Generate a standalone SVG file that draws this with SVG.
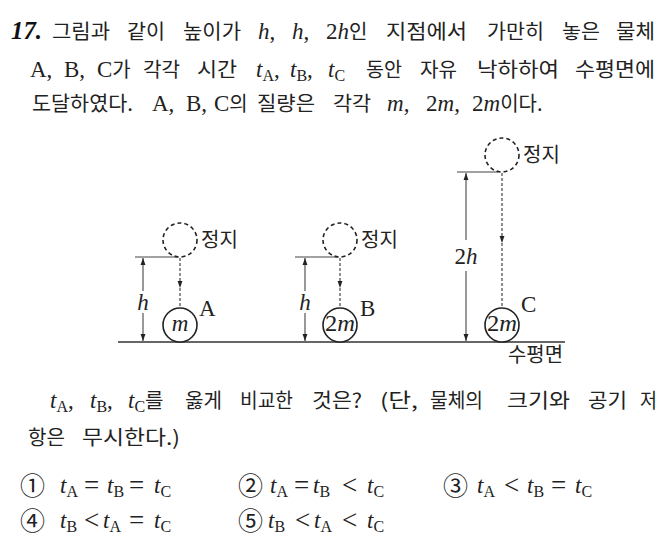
<svg xmlns="http://www.w3.org/2000/svg" width="663" height="553" viewBox="0 0 663 553">
<defs>
<style>
.k{font-family:"Noto Sans CJK KR","Noto Sans",sans-serif;font-size:20px;fill:#222}
.r{font-family:"Liberation Serif","Noto Sans CJK KR",serif;font-size:23px;fill:#222}
.i{font-style:italic}
.s{font-size:16px}
.op{font-family:"Liberation Serif",serif;font-size:27px;fill:#222}
.cn{font-family:"Noto Sans CJK KR",sans-serif;font-size:25px;fill:#222}
.ln{stroke:#333;stroke-width:1.3;fill:none}
.dim{stroke:#444;stroke-width:1.1;fill:none}
.dash{stroke:#333;stroke-width:1.1;fill:none;stroke-dasharray:3 2}
.dc{stroke:#222;stroke-width:1.6;fill:none;stroke-dasharray:4 3}
.sc{stroke:#222;stroke-width:1.6;fill:#fff}
</style>
<marker id="ah" viewBox="0 0 10 10" refX="10" refY="5" markerWidth="7" markerHeight="7" markerUnits="userSpaceOnUse" orient="auto-start-reverse">
<path d="M0,1.5 L10,5 L0,8.5 Z" fill="#222"/>
</marker>
</defs>
<rect width="663" height="553" fill="#fff"/>

<g id="question">
<text x="11" y="39" font-family="Liberation Serif,serif" font-size="26" font-weight="bold" font-style="italic" fill="#111" textLength="31" lengthAdjust="spacingAndGlyphs">17.</text>
<text class="k" x="52" y="39" textLength="58" lengthAdjust="spacingAndGlyphs">그림과</text>
<text class="k" x="127" y="39" textLength="38" lengthAdjust="spacingAndGlyphs">같이</text>
<text class="k" x="183" y="39" textLength="58" lengthAdjust="spacingAndGlyphs">높이가</text>
<text class="r" x="258" y="39"><tspan class="i">h</tspan>,</text>
<text class="r" x="292" y="39"><tspan class="i">h</tspan>,</text>
<text class="r" x="326" y="39">2<tspan class="i">h</tspan><tspan class="k">인</tspan></text>
<text class="k" x="386" y="39" textLength="81" lengthAdjust="spacingAndGlyphs">지점에서</text>
<text class="k" x="487" y="39" textLength="57" lengthAdjust="spacingAndGlyphs">가만히</text>
<text class="k" x="562" y="39" textLength="38" lengthAdjust="spacingAndGlyphs">놓은</text>
<text class="k" x="616" y="39" textLength="39" lengthAdjust="spacingAndGlyphs">물체</text>

<text class="r" x="30" y="77">A,</text>
<text class="r" x="64" y="77">B,</text>
<text class="r" x="97" y="77">C<tspan class="k">가</tspan></text>
<text class="k" x="143" y="77" textLength="37" lengthAdjust="spacingAndGlyphs">각각</text>
<text class="k" x="197" y="77" textLength="40" lengthAdjust="spacingAndGlyphs">시간</text>
<text class="r" x="256" y="77"><tspan class="i">t</tspan><tspan class="s" dy="4">A</tspan><tspan dy="-4">,</tspan></text>
<text class="r" x="290" y="77"><tspan class="i">t</tspan><tspan class="s" dy="4">B</tspan><tspan dy="-4">,</tspan></text>
<text class="r" x="328" y="77"><tspan class="i">t</tspan><tspan class="s" dy="4">C</tspan></text>
<text class="k" x="366" y="77" textLength="36" lengthAdjust="spacingAndGlyphs">동안</text>
<text class="k" x="420" y="77" textLength="37" lengthAdjust="spacingAndGlyphs">자유</text>
<text class="k" x="477" y="77" textLength="82" lengthAdjust="spacingAndGlyphs">낙하하여</text>
<text class="k" x="575" y="77" textLength="80" lengthAdjust="spacingAndGlyphs">수평면에</text>

<text class="k" x="32" y="111" textLength="101" lengthAdjust="spacingAndGlyphs">도달하였다.</text>
<text class="r" x="152" y="111">A,</text>
<text class="r" x="186" y="111">B,</text>
<text class="r" x="214" y="111">C<tspan class="k">의</tspan></text>
<text class="k" x="257" y="111" textLength="58" lengthAdjust="spacingAndGlyphs">질량은</text>
<text class="k" x="333" y="111" textLength="38" lengthAdjust="spacingAndGlyphs">각각</text>
<text class="r" x="387" y="111"><tspan class="i">m</tspan>,</text>
<text class="r" x="426" y="111">2<tspan class="i">m</tspan>,</text>
<text class="r" x="472" y="111">2<tspan class="i">m</tspan><tspan class="k">이다.</tspan></text>
</g>

<g id="connectors">
<line class="ln" x1="118" y1="342" x2="565" y2="342"/>
<line class="dim" x1="135" y1="257" x2="178" y2="257"/>
<line class="dim" x1="143" y1="258" x2="143" y2="291" marker-start="url(#ah)"/>
<line class="dim" x1="143" y1="313" x2="143" y2="341" marker-end="url(#ah)"/>
<line class="dash" x1="180" y1="258" x2="180" y2="288" marker-end="url(#ah)"/>
<line class="dash" x1="180" y1="288" x2="180" y2="308"/>

<line class="dim" x1="295" y1="257" x2="338" y2="257"/>
<line class="dim" x1="305" y1="258" x2="305" y2="291" marker-start="url(#ah)"/>
<line class="dim" x1="305" y1="313" x2="305" y2="341" marker-end="url(#ah)"/>
<line class="dash" x1="340" y1="258" x2="340" y2="288" marker-end="url(#ah)"/>
<line class="dash" x1="340" y1="288" x2="340" y2="308"/>

<line class="dim" x1="457" y1="172" x2="498" y2="172"/>
<line class="dim" x1="466" y1="173" x2="466" y2="240" marker-start="url(#ah)"/>
<line class="dim" x1="466" y1="271" x2="466" y2="341" marker-end="url(#ah)"/>
<line class="dash" x1="502" y1="173" x2="502" y2="243" marker-end="url(#ah)"/>
<line class="dash" x1="502" y1="243" x2="502" y2="308"/>
</g>

<g id="nodeA">
<circle class="dc" cx="180" cy="240" r="17"/>
<text class="k" x="201" y="247" font-size="19">정지</text>
<text class="r i" x="143" y="310" text-anchor="middle">h</text>
<circle class="sc" cx="180" cy="325" r="17"/>
<text class="r i" x="180" y="331" text-anchor="middle" font-size="21">m</text>
<text class="r" x="199" y="316" font-size="21">A</text>
</g>

<g id="nodeB">
<circle class="dc" cx="340" cy="240" r="17"/>
<text class="k" x="361" y="247" font-size="19">정지</text>
<text class="r i" x="305" y="310" text-anchor="middle">h</text>
<circle class="sc" cx="340" cy="325" r="17"/>
<text class="r" x="340" y="331" text-anchor="middle" font-size="21" textLength="30" lengthAdjust="spacingAndGlyphs">2<tspan class="i">m</tspan></text>
<text class="r" x="360" y="316" font-size="21">B</text>
</g>

<g id="nodeC">
<circle class="dc" cx="502" cy="155" r="17"/>
<text class="k" x="523" y="162" font-size="19">정지</text>
<text class="r" x="466" y="264" text-anchor="middle">2<tspan class="i">h</tspan></text>
<circle class="sc" cx="502" cy="325" r="17"/>
<text class="r" x="502" y="331" text-anchor="middle" font-size="21" textLength="30" lengthAdjust="spacingAndGlyphs">2<tspan class="i">m</tspan></text>
<text class="r" x="521" y="312" font-size="21">C</text>
<text class="k" x="508" y="362" font-size="18" textLength="55" lengthAdjust="spacingAndGlyphs">수평면</text>
</g>

<g id="prompt">
<text class="r" x="50" y="408"><tspan class="i">t</tspan><tspan class="s" dy="4">A</tspan><tspan dy="-4">,</tspan></text>
<text class="r" x="90" y="408"><tspan class="i">t</tspan><tspan class="s" dy="4">B</tspan><tspan dy="-4">,</tspan></text>
<text class="r" x="128" y="408"><tspan class="i">t</tspan><tspan class="s" dy="4">C</tspan><tspan class="k" dy="-4">를</tspan></text>
<text class="k" x="185" y="408" textLength="37" lengthAdjust="spacingAndGlyphs">옳게</text>
<text class="k" x="240" y="408" textLength="53" lengthAdjust="spacingAndGlyphs">비교한</text>
<text class="k" x="312" y="408" textLength="50" lengthAdjust="spacingAndGlyphs">것은?</text>
<text class="k" x="380" y="408" textLength="38" lengthAdjust="spacingAndGlyphs">(단,</text>
<text class="k" x="430" y="408" textLength="53" lengthAdjust="spacingAndGlyphs">물체의</text>
<text class="k" x="507" y="408" textLength="63" lengthAdjust="spacingAndGlyphs">크기와</text>
<text class="k" x="588" y="408" textLength="39" lengthAdjust="spacingAndGlyphs">공기</text>
<text class="k" x="640" y="408" textLength="17" lengthAdjust="spacingAndGlyphs">저</text>
<text class="k" x="28" y="445" textLength="37" lengthAdjust="spacingAndGlyphs">항은</text>
<text class="k" x="82" y="445" textLength="98" lengthAdjust="spacingAndGlyphs">무시한다.)</text>
</g>

<g id="choices">
<text class="cn" x="20" y="495">①</text>
<text class="r" x="60" y="493"><tspan class="i">t</tspan><tspan class="s" dy="4">A</tspan></text>
<text class="op" x="84" y="494">=</text>
<text class="r" x="107" y="493"><tspan class="i">t</tspan><tspan class="s" dy="4">B</tspan></text>
<text class="op" x="129" y="494">=</text>
<text class="r" x="154" y="493"><tspan class="i">t</tspan><tspan class="s" dy="4">C</tspan></text>

<text class="cn" x="238" y="495">②</text>
<text class="r" x="270" y="493"><tspan class="i">t</tspan><tspan class="s" dy="4">A</tspan></text>
<text class="op" x="294" y="494">=</text>
<text class="r" x="313" y="493"><tspan class="i">t</tspan><tspan class="s" dy="4">B</tspan></text>
<text class="op" x="342" y="494">&lt;</text>
<text class="r" x="367" y="493"><tspan class="i">t</tspan><tspan class="s" dy="4">C</tspan></text>

<text class="cn" x="443" y="495">③</text>
<text class="r" x="477" y="493"><tspan class="i">t</tspan><tspan class="s" dy="4">A</tspan></text>
<text class="op" x="504" y="494">&lt;</text>
<text class="r" x="527" y="493"><tspan class="i">t</tspan><tspan class="s" dy="4">B</tspan></text>
<text class="op" x="551" y="494">=</text>
<text class="r" x="575" y="493"><tspan class="i">t</tspan><tspan class="s" dy="4">C</tspan></text>

<text class="cn" x="20" y="530">④</text>
<text class="r" x="60" y="528"><tspan class="i">t</tspan><tspan class="s" dy="4">B</tspan></text>
<text class="op" x="84" y="529">&lt;</text>
<text class="r" x="103" y="528"><tspan class="i">t</tspan><tspan class="s" dy="4">A</tspan></text>
<text class="op" x="129" y="529">=</text>
<text class="r" x="154" y="528"><tspan class="i">t</tspan><tspan class="s" dy="4">C</tspan></text>

<text class="cn" x="238" y="530">⑤</text>
<text class="r" x="268" y="528"><tspan class="i">t</tspan><tspan class="s" dy="4">B</tspan></text>
<text class="op" x="295" y="529">&lt;</text>
<text class="r" x="314" y="528"><tspan class="i">t</tspan><tspan class="s" dy="4">A</tspan></text>
<text class="op" x="342" y="529">&lt;</text>
<text class="r" x="367" y="528"><tspan class="i">t</tspan><tspan class="s" dy="4">C</tspan></text>
</g>
</svg>
